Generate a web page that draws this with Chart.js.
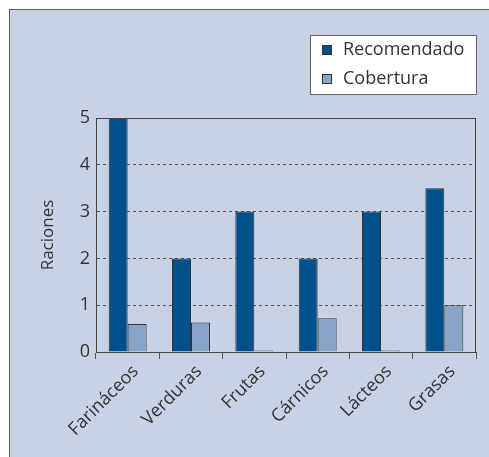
<!DOCTYPE html>
<html>
<head>
<meta charset="utf-8">
<script src="https://cdn.jsdelivr.net/npm/chart.js@4/dist/chart.umd.min.js"></script>
<style>
  html, body { margin: 0; padding: 0; background: #fff; overflow: hidden; }
  #frame {
    position: fixed; left: 9px; top: 9px; right: 0; bottom: 0;
    background: #c9d1e4; border-left: 1.5px solid #5a5a5a; border-top: 1.5px solid #5a5a5a;
  }
  #wrap { position: absolute; left: 0; top: 0; width: 489px; height: 457px; }
</style>
</head>
<body>
<div id="frame"></div>
<div id="wrap"><canvas id="chart" width="489" height="457"></canvas></div>
<script>
const categories = ['Farináceos', 'Verduras', 'Frutas', 'Cárnicos', 'Lácteos', 'Grasas']
const recomendado = [5, 2, 3, 2, 3, 3.5]
const cobertura = [0.6, 0.63, 0.03, 0.72, 0.03, 1.0]
const seriesNames = ['Recomendado', 'Cobertura']
const yTicks = [0, 1, 2, 3, 4, 5]

const FONT = "'Open Sans', sans-serif"
const TEXT = '#333'

// boxed legend + solid frame round the plot
const frameAndLegend = {
  id: 'frameAndLegend',
  afterDraw(chart) {
    const { ctx, chartArea: a } = chart
    ctx.save()
    ctx.strokeStyle = '#444'
    ctx.lineWidth = 1
    ctx.strokeRect(a.left + 0.5, a.top + 0.5, a.right - a.left - 1, a.bottom - a.top)

    const bx = 310, by = 35, bw = 166, bh = 59
    ctx.fillStyle = '#fff'
    ctx.fillRect(bx, by, bw, bh)
    ctx.strokeStyle = '#666'
    ctx.strokeRect(bx + 0.5, by + 0.5, bw, bh)
    ctx.font = '18px ' + FONT
    ctx.textBaseline = 'middle'
    chart.data.datasets.forEach((ds, i) => {
      const cy = by + 15 + i * 29
      ctx.fillStyle = ds.backgroundColor
      ctx.fillRect(bx + 12, cy - 5, 10, 10)
      ctx.strokeStyle = '#333'
      ctx.strokeRect(bx + 12.5, cy - 4.5, 9, 9)
      ctx.fillStyle = TEXT
      ctx.fillText(ds.label, bx + 33, cy)
    })
    ctx.restore()
  }
}

new Chart(document.getElementById('chart'), {
  type: 'bar',
  data: {
    labels: categories,
    datasets: [
      { label: seriesNames[0], data: recomendado, backgroundColor: '#00508c', borderColor: '#333', borderWidth: 1 },
      { label: seriesNames[1], data: cobertura, backgroundColor: '#88a4c8', borderColor: '#333', borderWidth: 1 }
    ]
  },
  options: {
    responsive: false,
    animation: false,
    layout: { padding: { top: 118, right: 13, left: 38, bottom: 0 } },
    datasets: { bar: { categoryPercentage: 0.6, barPercentage: 1.0 } },
    plugins: { legend: { display: false }, tooltip: { enabled: false } },
    scales: {
      x: {
        afterFit: s => { s.height = 105 },
        grid: { drawOnChartArea: false, drawTicks: true, tickLength: 7, color: '#555' },
        border: { color: '#444' },
        ticks: {
          color: TEXT, font: { family: FONT, size: 18 },
          minRotation: 45, maxRotation: 45, labelOffset: 8, padding: 2
        }
      },
      y: {
        min: 0, max: 5,
        afterFit: s => { s.width = 58 },
        afterBuildTicks: s => { s.ticks = yTicks.map(v => ({ value: v })) },
        grid: { color: '#555', tickLength: 0, lineWidth: 1 },
        border: { color: '#444', dash: [3, 3] },
        ticks: { color: TEXT, font: { family: FONT, size: 18 }, padding: 6 },
        title: { display: true, text: 'Raciones', color: TEXT, font: { family: FONT, size: 17 }, padding: 0 }
      }
    }
  },
  plugins: [frameAndLegend]
})
</script>
</body>
</html>
